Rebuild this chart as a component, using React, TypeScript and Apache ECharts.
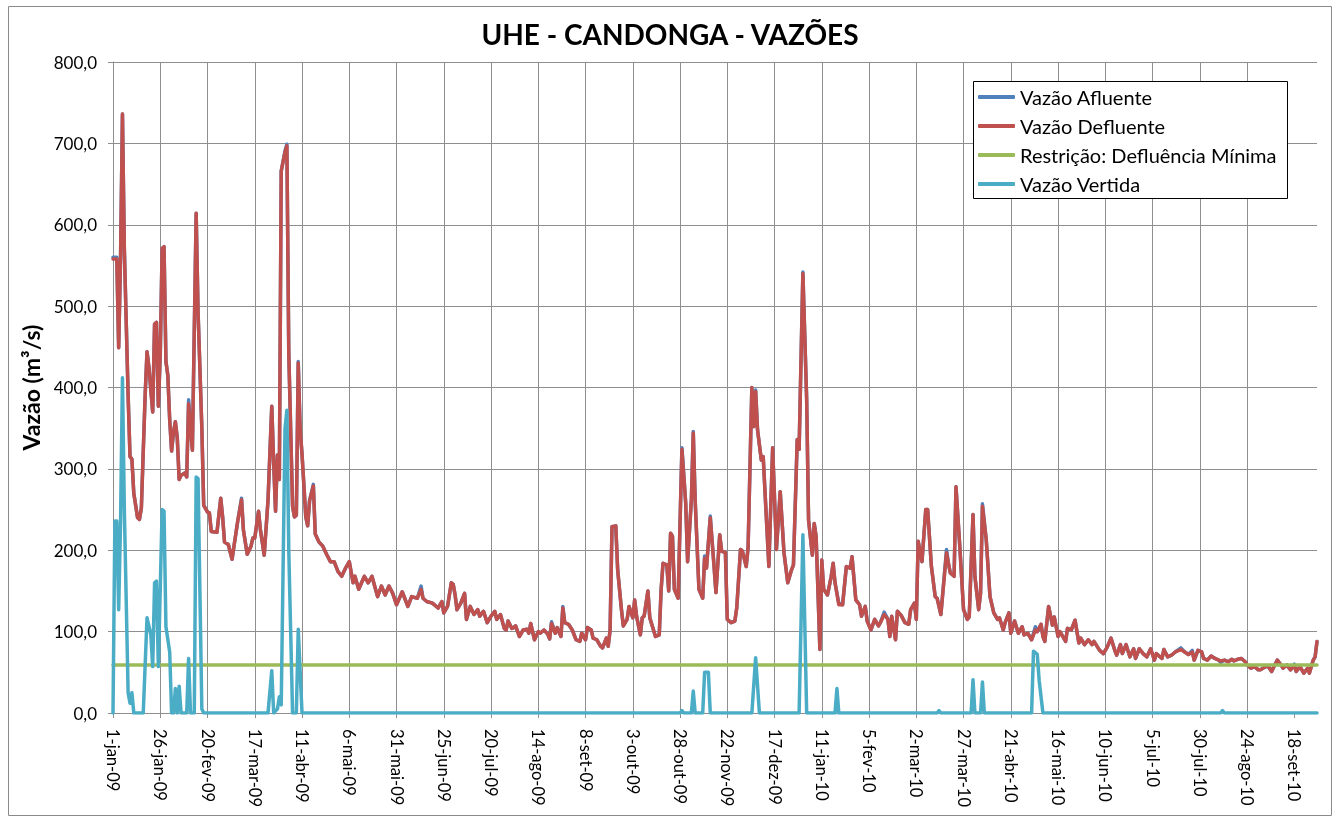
import React, { useEffect, useRef } from "react";
import * as echarts from "echarts";

const TITLE = "UHE - CANDONGA - VAZÕES";
const Y_NAME = "Vazão (m³/s)";
const seriesNames = ["Vazão Afluente", "Vazão Defluente", "Restrição: Defluência Mínima", "Vazão Vertida"];
const seriesColors = ["#4F81BD", "#C0504D", "#9BBB59", "#4BACC6"];

// x tick labels, one every 25 days starting 1-jan-09 (day 0)
const xTickLabels = [
  "1-jan-09", "26-jan-09", "20-fev-09", "17-mar-09", "11-abr-09", "6-mai-09", "31-mai-09",
  "25-jun-09", "20-jul-09", "14-ago-09", "8-set-09", "3-out-09", "28-out-09", "22-nov-09",
  "17-dez-09", "11-jan-10", "5-fev-10", "2-mar-10", "27-mar-10", "21-abr-10", "16-mai-10",
  "10-jun-10", "5-jul-10", "30-jul-10", "24-ago-10", "18-set-10",
];
const LAST_DAY = 637;

// [day index, m³/s]
const defluente = [
  [0,558],[2,558],[3,449],[4,560],[5,736],[6,570],[8,390],[9,315],[10,312],[11,270],[13,240],[14,238],[15,252],[17,390],[18,444],[19,425],[21,370],[22,478],[23,480],[24,377],[25,440],[26,571],[27,573],[28,432],[29,415],[30,360],[31,322],[32,345],[33,358],[34,338],[35,287],[36,292],[38,295],[39,290],[40,380],[41,350],[42,323],[44,614],[45,493],[47,350],[48,255],[50,247],[51,246],[52,223],[55,222],[57,264],[58,241],[59,210],[61,207],[63,189],[64,205],[66,236],[68,262],[69,225],[71,195],[73,205],[74,215],[75,215],[77,248],[78,225],[80,194],[82,261],[84,377],[85,307],[86,248],[87,317],[88,287],[89,666],[91,689],[92,697],[93,442],[95,254],[96,241],[97,243],[98,430],[99,349],[100,318],[102,241],[103,230],[104,261],[106,279],[107,220],[109,210],[111,205],[113,195],[115,186],[117,186],[119,174],[121,168],[123,178],[125,186],[127,160],[128,168],[130,152],[133,168],[135,160],[137,168],[140,143],[142,156],[144,145],[146,156],[148,147],[150,133],[153,149],[156,131],[158,143],[161,141],[163,152],[164,141],[166,137],[169,135],[172,129],[174,137],[175,123],[177,131],[179,160],[180,158],[181,145],[182,127],[184,135],[186,147],[187,115],[189,131],[191,121],[193,127],[194,119],[196,125],[198,111],[200,119],[202,125],[203,115],[205,121],[207,104],[208,102],[209,113],[211,104],[212,105],[213,107],[215,94],[217,102],[219,103],[220,98],[221,110],[223,90],[225,100],[226,98],[228,102],[230,97],[231,91],[232,110],[234,98],[235,105],[237,94],[238,129],[239,111],[241,109],[243,102],[245,90],[247,88],[248,98],[250,90],[251,105],[253,102],[254,92],[256,90],[258,82],[259,80],[261,92],[262,82],[263,102],[264,229],[266,230],[267,176],[269,127],[270,107],[272,115],[273,131],[275,117],[276,139],[277,119],[279,96],[280,117],[281,119],[283,150],[284,117],[287,94],[289,96],[290,152],[291,184],[293,182],[294,150],[295,221],[296,217],[297,152],[299,141],[301,324],[303,258],[304,186],[306,262],[307,344],[308,262],[310,152],[312,141],[313,190],[314,178],[316,240],[318,180],[319,148],[321,219],[322,199],[324,197],[325,115],[327,111],[329,113],[330,129],[332,201],[333,199],[335,180],[336,203],[338,400],[339,352],[340,395],[341,348],[343,311],[344,315],[347,180],[348,254],[349,326],[351,201],[353,272],[355,197],[357,160],[359,176],[360,182],[362,336],[363,324],[365,540],[367,385],[368,237],[370,194],[371,233],[372,217],[374,78],[375,188],[376,152],[378,145],[380,168],[381,184],[382,160],[384,133],[386,133],[388,180],[390,178],[391,192],[393,139],[395,133],[396,119],[398,131],[399,113],[401,102],[403,115],[405,107],[406,111],[408,121],[410,115],[411,94],[412,119],[414,90],[415,125],[417,120],[419,111],[421,109],[422,127],[424,135],[425,115],[426,211],[428,186],[430,250],[431,250],[433,180],[435,143],[436,141],[437,131],[438,121],[441,197],[442,184],[443,172],[445,168],[446,278],[448,205],[450,127],[452,115],[453,118],[455,244],[456,168],[458,127],[459,147],[460,254],[462,213],[464,143],[466,123],[468,115],[469,117],[471,102],[472,111],[474,123],[475,98],[477,113],[479,98],[481,106],[482,96],[484,98],[486,90],[488,102],[489,100],[491,109],[492,94],[493,88],[495,131],[497,108],[498,118],[500,94],[501,100],[504,88],[505,104],[507,102],[509,114],[511,86],[512,92],[514,84],[516,90],[518,84],[519,88],[522,77],[524,73],[526,81],[528,92],[530,77],[531,71],[533,84],[534,73],[536,84],[538,69],[540,79],[541,67],[543,79],[545,73],[547,69],[549,79],[551,65],[552,73],[555,67],[556,78],[558,69],[560,71],[562,75],[565,78],[567,75],[569,72],[571,75],[572,65],[574,77],[576,75],[577,67],[579,65],[581,70],[583,67],[585,65],[586,64],[588,65],[590,63],[592,66],[593,64],[595,66],[597,67],[599,63],[600,59],[602,55],[604,57],[606,53],[607,53],[609,56],[611,58],[613,51],[614,56],[616,65],[618,59],[619,55],[621,59],[623,53],[625,58],[626,51],[628,57],[630,49],[632,55],[633,49],[635,65],[636,69],[637,88],
];

const afluente = [
  [0,560],[2,560],[3,449],[4,560],[5,736],[6,570],[8,390],[9,315],[10,312],[11,270],[13,240],[14,238],[15,252],[17,390],[18,444],[19,425],[21,370],[22,478],[23,480],[24,377],[25,440],[26,571],[27,573],[28,432],[29,415],[30,360],[31,322],[32,345],[33,358],[34,338],[35,287],[36,292],[38,295],[39,290],[40,385],[41,350],[42,323],[44,614],[45,493],[47,350],[48,255],[50,247],[51,246],[52,223],[55,222],[57,264],[58,241],[59,210],[61,207],[63,189],[64,205],[66,236],[68,264],[69,225],[71,195],[73,205],[74,215],[75,215],[77,248],[78,225],[80,194],[82,261],[84,377],[85,307],[86,248],[87,317],[88,287],[89,666],[91,691],[92,699],[93,442],[95,254],[96,241],[97,243],[98,432],[99,349],[100,318],[102,241],[103,230],[104,261],[106,281],[107,220],[109,210],[111,205],[113,195],[115,186],[117,186],[119,174],[121,168],[123,178],[125,186],[127,160],[128,168],[130,152],[133,168],[135,160],[137,168],[140,143],[142,156],[144,145],[146,156],[148,147],[150,133],[153,149],[156,131],[158,143],[161,141],[163,156],[164,141],[166,137],[169,135],[172,129],[174,137],[175,123],[177,131],[179,160],[180,158],[181,145],[182,127],[184,135],[186,147],[187,115],[189,131],[191,121],[193,127],[194,119],[196,125],[198,111],[200,119],[202,125],[203,115],[205,121],[207,104],[208,102],[209,113],[211,104],[212,105],[213,107],[215,94],[217,102],[219,103],[220,98],[221,110],[223,90],[225,100],[226,98],[228,102],[230,97],[231,91],[232,112],[234,98],[235,105],[237,94],[238,131],[239,111],[241,109],[243,102],[245,90],[247,88],[248,98],[250,90],[251,105],[253,102],[254,92],[256,90],[258,82],[259,80],[261,92],[262,82],[263,102],[264,229],[266,230],[267,176],[269,127],[270,107],[272,115],[273,131],[275,117],[276,139],[277,119],[279,96],[280,117],[281,119],[283,150],[284,117],[287,94],[289,96],[290,152],[291,184],[293,182],[294,150],[295,221],[296,217],[297,152],[299,141],[301,326],[303,258],[304,186],[306,262],[307,346],[308,262],[310,152],[312,141],[313,193],[314,178],[316,242],[318,180],[319,148],[321,219],[322,199],[324,197],[325,115],[327,111],[329,113],[330,129],[332,201],[333,199],[335,180],[336,203],[338,400],[339,352],[340,397],[341,348],[343,311],[344,315],[347,180],[348,254],[349,326],[351,201],[353,272],[355,197],[357,160],[359,176],[360,182],[362,336],[363,324],[365,542],[367,385],[368,237],[370,194],[371,233],[372,217],[374,78],[375,188],[376,152],[378,145],[380,168],[381,184],[382,160],[384,135],[386,133],[388,180],[390,178],[391,192],[393,139],[395,133],[396,119],[398,131],[399,113],[401,102],[403,115],[405,107],[406,111],[408,124],[410,115],[411,94],[412,119],[414,90],[415,125],[417,120],[419,111],[421,109],[422,127],[424,135],[425,115],[426,211],[428,186],[430,250],[431,250],[433,180],[435,143],[436,141],[437,131],[438,121],[441,201],[442,184],[443,172],[445,168],[446,278],[448,205],[450,127],[452,115],[453,118],[455,244],[456,168],[458,127],[459,147],[460,257],[462,213],[464,143],[466,123],[468,115],[469,117],[471,102],[472,111],[474,123],[475,98],[477,113],[479,98],[481,106],[482,96],[484,98],[486,90],[488,106],[489,100],[491,109],[492,94],[493,88],[495,131],[497,108],[498,118],[500,94],[501,100],[504,88],[505,104],[507,102],[509,114],[511,86],[512,92],[514,84],[516,90],[518,84],[519,88],[522,77],[524,73],[526,81],[528,92],[530,77],[531,71],[533,84],[534,73],[536,84],[538,69],[540,79],[541,67],[543,79],[545,73],[547,69],[549,79],[551,65],[552,73],[555,67],[556,78],[558,69],[560,71],[562,75],[565,80],[567,75],[569,72],[571,77],[572,65],[574,77],[576,75],[577,67],[579,65],[581,70],[583,67],[585,65],[586,62],[588,65],[590,63],[592,66],[593,64],[595,66],[597,67],[599,63],[600,59],[602,55],[604,57],[606,53],[607,53],[609,56],[611,58],[613,51],[614,56],[616,65],[618,59],[619,55],[621,59],[623,53],[625,60],[626,51],[628,57],[630,49],[632,55],[633,49],[635,65],[636,69],[637,88],
];

const restricao = [[0,59],[637,59]];

const vertida = [
  [0,0],[1,236],[2,236],[3,127],[4,236],[5,412],[6,250],[8,25],[9,12],[10,25],[11,0],[16,0],[18,117],[20,97],[21,57],[22,160],[23,162],[24,57],[26,250],[27,248],[28,106],[30,75],[31,0],[32,0],[33,30],[34,0],[35,33],[36,0],[39,0],[40,67],[41,0],[43,0],[44,290],[45,288],[47,5],[48,0],[82,0],[84,52],[85,0],[87,5],[88,20],[89,10],[91,349],[92,372],[93,200],[95,0],[97,0],[98,103],[100,0],[300,0],[301,3],[302,0],[306,0],[307,27],[308,0],[312,0],[313,50],[315,50],[316,0],[338,0],[340,68],[342,0],[363,0],[365,219],[367,0],[382,0],[383,30],[384,0],[436,0],[437,3],[438,0],[454,0],[455,41],[456,0],[459,0],[460,38],[461,0],[486,0],[487,76],[489,72],[490,40],[492,0],[586,0],[587,3],[588,0],[637,0],
];

const FONT = "Lato, 'Liberation Sans', sans-serif";
const GRID_COLOR = "#8e8e8e";

export default function App() {
  const ref = useRef<HTMLDivElement>(null);
  useEffect(() => {
    if (!ref.current) return;
    const chart = echarts.init(ref.current, null, { renderer: "svg" });
    const tickValues = xTickLabels.map((_, i) => i * 25);
    const mk = (i: number, data: number[][]) => ({
      name: seriesNames[i],
      type: "line",
      data,
      symbol: "none",
      color: seriesColors[i],
      lineStyle: { width: 3.5, color: seriesColors[i], join: "round", cap: "round" },
      z: 2 + i * 0.1,
    });
    chart.setOption({
      animation: false,
      textStyle: { fontFamily: FONT },
      title: {
        text: TITLE,
        left: "center",
        top: 15,
        textStyle: { fontSize: 28, fontWeight: "bold", color: "#000", fontFamily: FONT },
      },
      graphic: [
        { type: "rect", z: 0, shape: { x: 8.5, y: 6.5, width: 1323, height: 809 }, style: { fill: "none", stroke: "#8a8a8a", lineWidth: 1 } },
        { type: "rect", z: 3, shape: { x: 973.5, y: 81.5, width: 314, height: 117 }, style: { fill: "#fff", stroke: "#000", lineWidth: 1 } },
      ],
      legend: {
        orient: "vertical",
        left: 978,
        top: 86,
        padding: 0,
        itemGap: 7,
        itemWidth: 37,
        itemHeight: 4,
        icon: "roundRect",
        z: 5,
        textStyle: { fontSize: 20, color: "#000", lineHeight: 22, fontFamily: FONT },
        data: seriesNames,
      },
      grid: { left: 113, top: 62, width: 1204, height: 651 },
      xAxis: {
        type: "value",
        min: 0,
        max: LAST_DAY,
        interval: 25,
        axisLine: { show: true, lineStyle: { color: GRID_COLOR, width: 1 } },
        axisTick: { show: true, length: 5, lineStyle: { color: GRID_COLOR }, customValues: tickValues },
        axisLabel: {
          rotate: -90,
          margin: 16,
          fontSize: 16.5,
          color: "#000",
          fontFamily: FONT,
          customValues: tickValues,
          formatter: (v: number) => (v % 25 === 0 && xTickLabels[v / 25] ? xTickLabels[v / 25] : ""),
        },
        splitLine: { show: true, showMaxLine: false, lineStyle: { color: GRID_COLOR, width: 1 } },
      },
      yAxis: {
        type: "value",
        min: 0,
        max: 800,
        interval: 100,
        name: Y_NAME,
        nameLocation: "middle",
        nameGap: 66,
        nameTextStyle: { fontSize: 23, fontWeight: "bold", color: "#000", fontFamily: FONT },
        axisLine: { show: true, lineStyle: { color: GRID_COLOR, width: 1 } },
        axisTick: { show: true, length: 5, lineStyle: { color: GRID_COLOR } },
        axisLabel: {
          fontSize: 17,
          margin: 16,
          color: "#000",
          fontFamily: FONT,
          formatter: (v: number) => v.toFixed(1).replace(".", ","),
        },
        splitLine: { show: true, lineStyle: { color: GRID_COLOR, width: 1 } },
      },
      series: [mk(0, afluente), mk(1, defluente), mk(2, restricao), mk(3, vertida)],
    });
    return () => chart.dispose();
  }, []);
  return <div ref={ref} style={{ position: "fixed", left: 0, top: 0, width: 1340, height: 823 }} />;
}
